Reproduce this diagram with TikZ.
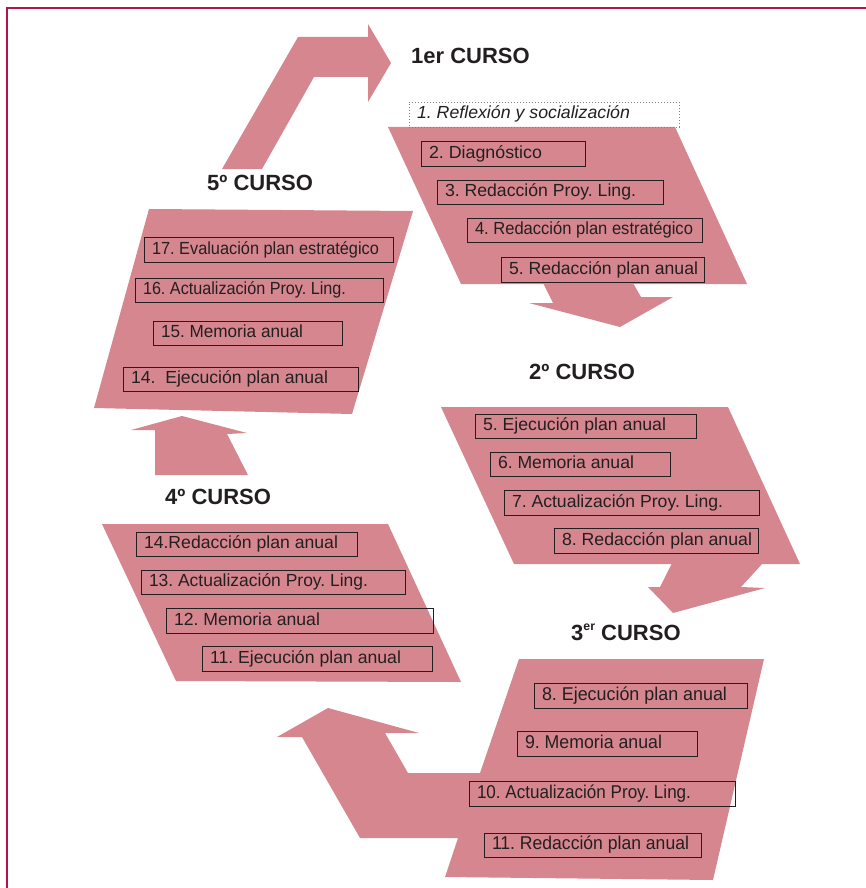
\documentclass[tikz,border=0pt]{standalone}
\usepackage{graphicx}
\usepackage{fontspec}
\setmainfont{Liberation Sans}
\frenchspacing
\definecolor{pinkfill}{HTML}{D6868E}
\definecolor{framered}{HTML}{B8114E}
\definecolor{ink}{HTML}{231F20}
\newsavebox\tbox
\newcommand\fitw[2]{\sbox\tbox{#2}\pgfmathsetmacro\fr{#1/\the\wd\tbox}\scalebox{\fr}[1]{\usebox\tbox}}
\newcommand\itm[8][]{\node[item,#1,minimum height=#6-#4] (#2) at (#3,#4) {\makebox[\dimexpr#5pt-#3pt-16pt\relax][l]{\fitw{#7}{#8}}};}
\begin{document}
\begin{tikzpicture}[x=1pt,y=-1pt,
  item/.style={draw=ink, line width=1pt, inner xsep=8pt, inner ysep=0pt, outer sep=0pt,
    anchor=north west, text=ink, font=\fontsize{17.5}{20}\selectfont\frenchspacing,
    text height=12.5pt, text depth=3.5pt},
  dotbox/.style={draw=gray, dotted, line width=0.9pt},
  tall/.style={font=\fontsize{18.5}{21}\selectfont\frenchspacing, text height=13.3pt, text depth=3.7pt},
  title/.style={anchor=base west, inner sep=0pt, text=ink, font=\bfseries\fontsize{22}{26}\selectfont},
  band/.style={fill=pinkfill, draw=none}]
\useasboundingbox (0,0) rectangle (866,888);
\draw[framered, line width=2.2pt] (866,8) -- (7,8) -- (7,888);
% shapes
\fill[band] (222,169) -- (298,37) -- (368,37) -- (368,24) -- (391,63) -- (368,102) -- (368,77) -- (314,77) -- (262,169) -- cycle;
\fill[band] (388,127) -- (675,127) -- (747,284) -- (461,284) -- cycle;
\fill[band] (543,283) -- (553,303) -- (529,303) -- (620,327) -- (673,297) -- (641,297) -- (633,283) -- cycle;
\fill[band] (441,407) -- (728,407) -- (800,564) -- (514,564) -- cycle;
\fill[band] (672,563) -- (660,587) -- (648,587) -- (673,613) -- (765,588) -- (741,587) -- (763,563) -- cycle;
\fill[band] (519,659) -- (764,659) -- (713,880) -- (445,877) -- (458,838) -- (360,838) -- (302,737) -- (277,737) -- (328,708) -- (419,733) -- (385,733) -- (408,773) -- (480,773) -- cycle;
\fill[band] (102,524) -- (388,524) -- (461,682) -- (176,681) -- cycle;
\fill[band] (155,475) -- (155,430) -- (131,430) -- (182,416) -- (247,433) -- (227,434) -- (248,475) -- cycle;
\fill[band] (149,209) -- (413,211) -- (352,414) -- (94,408) -- cycle;
% titles
\node[title] (t1) at (411,64) {1er CURSO};
\node[title] (t2) at (529,379) {2º CURSO};
\node[title] (t3) at (571,640) {3\raisebox{9.3pt}{\fontsize{12.3}{13}\selectfont er} CURSO};
\node[title] (t4) at (165,504) {4º CURSO};
\node[title] (t5) at (207,190) {5º CURSO};
% 1er curso
\itm[dotbox]{a1}{409}{102}{679}{127}{213}{\itshape 1. Reflexión y socialización}
\itm{a2}{421}{141}{585}{166}{113}{2. Diagnóstico}
\itm{a3}{437}{180}{663}{204}{191}{3. Redacción Proy. Ling.}
\itm{a4}{467}{218}{702}{242}{218}{4. Redacción plan estratégico}
\itm{a5}{501}{257}{704}{282}{189}{5. Redacción plan anual}
% 2o curso
\itm{b5}{475}{414}{696}{438}{183}{5. Ejecución plan anual}
\itm{b6}{490}{452}{670}{476}{136}{6. Memoria anual}
\itm{b7}{504}{490}{759}{515}{211}{7. Actualización Proy. Ling.}
\itm{b8}{554}{528}{758}{553}{190}{8. Redacción plan anual}
% 3er curso
\itm[tall]{c8}{534}{683}{747}{708}{185}{8. Ejecución plan anual}
\itm[tall]{c9}{517}{731}{697}{756}{137}{9. Memoria anual}
\itm[tall]{c10}{469}{781}{735}{806}{214}{10. Actualización Proy. Ling.}
\itm[tall]{c11}{484}{833}{701}{857}{197}{11. Redacción plan anual}
% 4o curso
\itm{d14}{136}{532}{357}{556}{194}{14.Redacción plan anual}
\itm{d13}{141}{570}{405}{594}{219}{13. Actualización Proy. Ling.}
\itm{d12}{166}{608}{433}{633}{146}{12. Memoria anual}
\itm{d11}{202}{646}{432}{671}{191}{11. Ejecución plan anual}
% 5o curso
\itm{e17}{144}{237}{393}{262}{227}{17. Evaluación plan estratégico}
\itm{e16}{135}{278}{383}{302}{203}{16. Actualización Proy. Ling.}
\itm{e15}{153}{321}{342}{345}{142}{15. Memoria anual}
\itm{e14}{123}{367}{358}{391}{197}{14.\ \ Ejecución plan anual}
\end{tikzpicture}
\end{document}
